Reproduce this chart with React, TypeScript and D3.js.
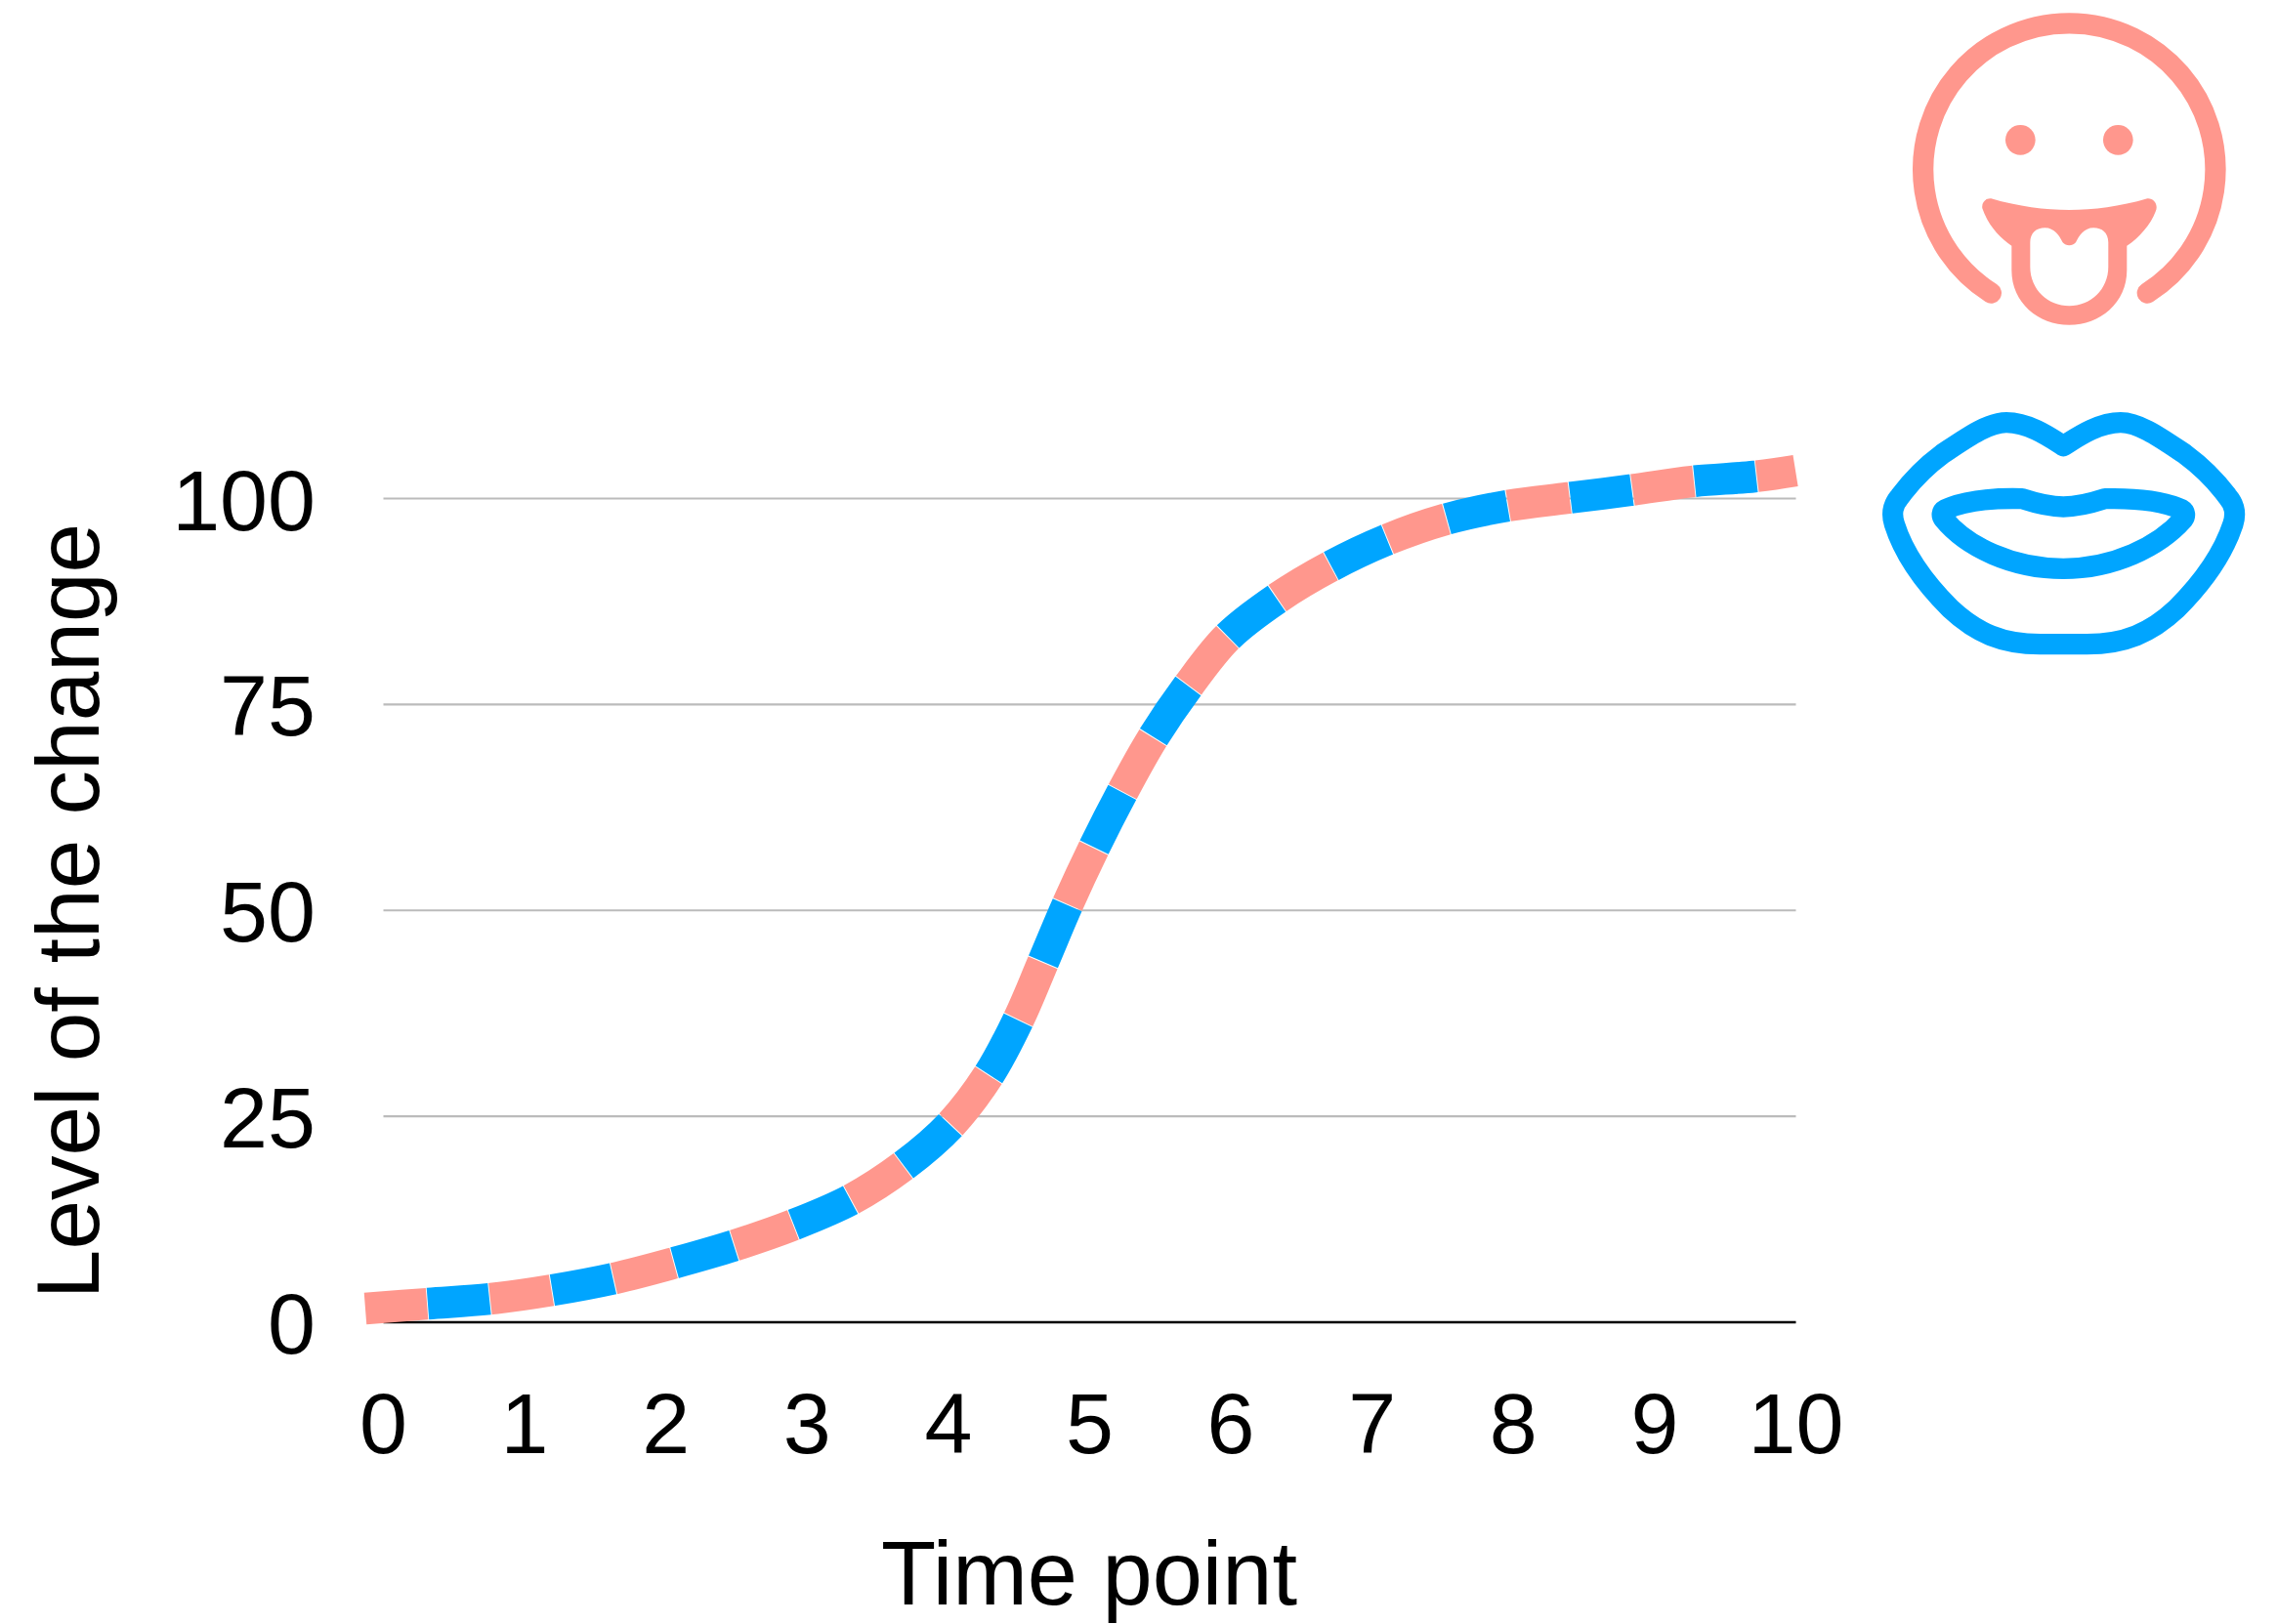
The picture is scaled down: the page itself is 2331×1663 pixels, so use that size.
import React, { useEffect } from "react";
import * as d3 from "d3";

const timePoints = [-0.128, 0.315, 0.764, 1.2, 1.636, 2.064, 2.493, 2.908, 3.316, 3.689, 4.014, 4.284, 4.499, 4.671, 4.844, 5.031, 5.232, 5.446, 5.695, 5.979, 6.325, 6.705, 7.099, 7.514, 7.957, 8.386, 8.828, 9.263, 9.706, 9.997];
const levels = [1.66, 2.25, 2.85, 3.91, 5.33, 7.23, 9.37, 11.86, 14.94, 19.09, 23.95, 29.99, 36.87, 43.75, 50.74, 57.62, 64.37, 70.9, 77.18, 83.22, 87.85, 91.76, 94.96, 97.45, 99.11, 100.06, 101.01, 102.07, 102.67, 103.38];
const xTicks = [0, 1, 2, 3, 4, 5, 6, 7, 8, 9, 10];
const yTicks = [0, 25, 50, 75, 100];
const xTitle = "Time point";
const yTitle = "Level of the change";

const PINK = "#ff978d";
const BLUE = "#00a5ff";
const FONT = "'Liberation Sans', Arial, sans-serif";

export default function App() {
  const x = d3.scaleLinear().domain([0, 10]).range([392.5, 1838.5]);
  const y = d3.scaleLinear().domain([0, 100]).range([1354, 510.5]);
  const line = d3
    .line<number>()
    .x((d) => x(d))
    .y((_, i) => y(levels[i]))
    .curve(d3.curveCatmullRom.alpha(0.5));
  const d = line(timePoints) as string;
  const dashOn = 63.2;
  const period = 128.3;
  useEffect(() => {
    document.body.style.margin = "0";
    document.body.style.background = "#fff";
  }, []);
  return (
    <svg width={2331} height={1663} style={{ display: "block" }} fontFamily={FONT}>
      <rect width={2331} height={1663} fill="#fff" />
      {yTicks.filter((t) => t > 0).map((t) => (
        <line key={t} x1={x(0)} x2={x(10)} y1={y(t)} y2={y(t)} stroke="#bbbbbb" strokeWidth={2.2} />
      ))}
      <line x1={x(0)} x2={x(10)} y1={y(0)} y2={y(0)} stroke="#000" strokeWidth={2.5} />
      <path d={d} fill="none" stroke={PINK} strokeWidth={32.5} strokeDasharray={`${dashOn} ${period - dashOn}`} />
      <path d={d} fill="none" stroke={BLUE} strokeWidth={32.5} strokeDasharray={`${dashOn} ${period - dashOn}`} strokeDashoffset={-period / 2} />
      {yTicks.map((t) => (
        <text key={t} x={323} y={y(t) + 32} textAnchor="end" fontSize={88} fill="#000">{t}</text>
      ))}
      {xTicks.map((t) => (
        <text key={t} x={x(t)} y={1488} textAnchor="middle" fontSize={88} fill="#000">{t}</text>
      ))}
      <text x={1115} y={1643} textAnchor="middle" fontSize={92} fill="#000">{xTitle}</text>
      <text transform="translate(101,933) rotate(-90)" textAnchor="middle" fontSize={91} fill="#000">{yTitle}</text>

      <g transform="translate(1900,0) scale(0.3333)">
        <path d="M415,900 A 449,449 0 1 1 895,900" fill="none" stroke={PINK} strokeWidth={64} strokeLinecap="round" />
        <circle cx={505} cy={430} r={46} fill={PINK} />
        <circle cx={805} cy={430} r={46} fill={PINK} />
        <path fillRule="evenodd" fill={PINK} d="M415,610 C 500,635 580,645 655,645 C 730,645 810,635 895,610 C 915,608 930,630 920,650 C 905,690 870,730 832,755 L 832,830 C 832,930 750,998 655,998 C 560,998 478,930 478,830 L 478,755 C 440,730 405,690 388,640 C 385,620 400,608 415,610 Z M535,745 C 535,715 555,700 580,700 C 610,700 625,725 635,745 C 645,757 665,757 675,745 C 685,725 700,700 730,700 C 755,700 775,715 775,745 L 775,820 C 775,890 720,940 655,940 C 590,940 535,890 535,820 Z" />
      </g>
      <g transform="translate(1900,400) scale(0.3333)" fill="none" stroke={BLUE} strokeWidth={64} strokeLinejoin="round">
        <path d="M637,170 C 605,150 535,98 462,98 C 405,98 340,145 265,195 C 215,232 170,278 135,325 C 112,352 108,378 118,410 C 140,480 190,570 290,670 C 370,745 450,779 565,779 L 710,779 C 825,779 905,745 985,670 C 1085,570 1135,480 1158,410 C 1168,378 1164,352 1141,325 C 1106,278 1060,232 1010,195 C 935,145 870,98 813,98 C 740,98 670,150 637,170 Z" />
        <path d="M637,357 C 590,357 550,345 510,332 C 430,330 340,335 275,365 C 262,372 262,385 270,395 C 340,480 480,547 637,547 C 790,547 930,480 1005,395 C 1012,385 1012,372 1000,365 C 935,335 850,330 765,332 C 725,345 685,357 637,357 Z" />
      </g>
    </svg>
  );
}
